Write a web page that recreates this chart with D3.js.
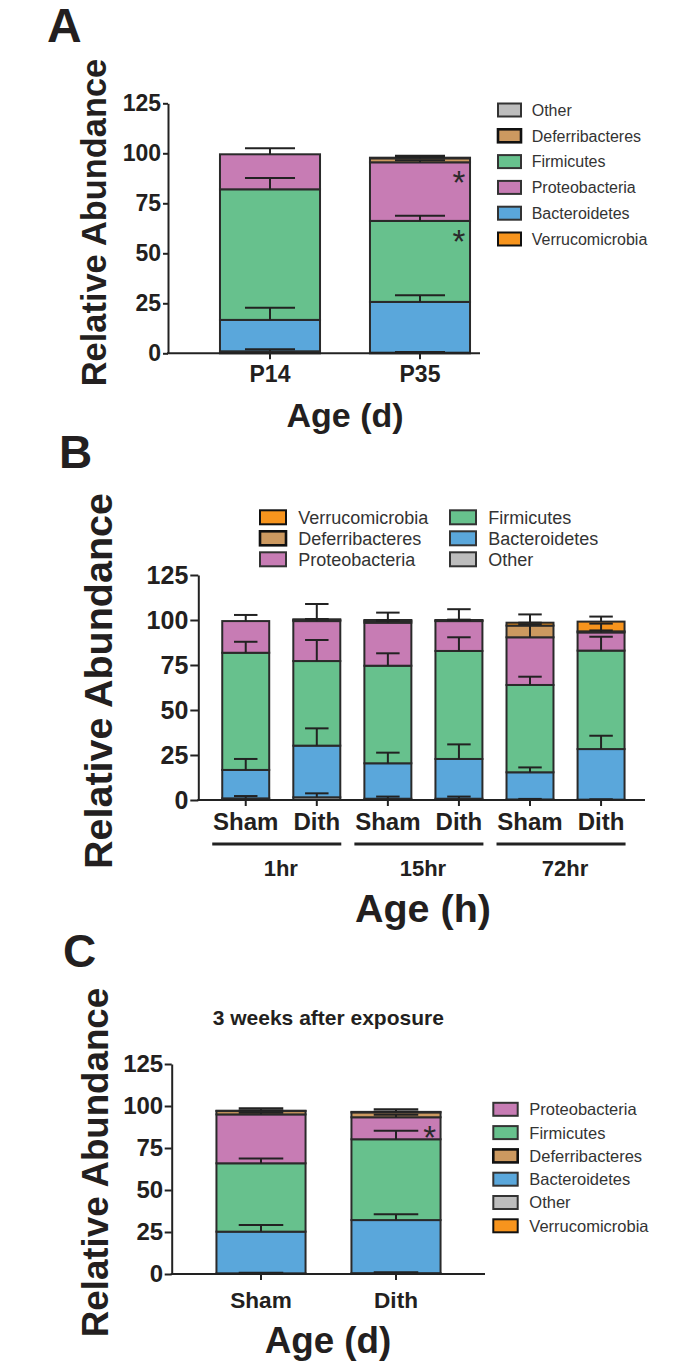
<!DOCTYPE html>
<html><head><meta charset="utf-8">
<script src="https://cdn.jsdelivr.net/npm/d3@7/dist/d3.min.js"></script>
<style>
body{margin:0;background:#fff}
svg{display:block}
text{font-family:"Liberation Sans",Arial,Helvetica,sans-serif}
</style>
</head><body>
<svg id="chart" width="698" height="1371"></svg>
<script>
// ---------------- DATA ----------------
const phyla = ["Other","Bacteroidetes","Firmicutes","Proteobacteria","Deferribacteres","Verrucomicrobia"];
const yTicks = [0,25,50,75,100,125];

// Panel A
const categoriesA = ["P14","P35"];
const otherA = [1.0, 0.3];
const bacteroidetesA = [15.7, 25.4];
const firmicutesA = [65.3, 40.5];
const proteobacteriaA = [17.5, 29.3];
const deferribacteresA = [0, 2.0];
const verrucomicrobiaA = [0, 0.3];
const errOtherA = [1.0, 0.3];
const errBacteroidetesA = [6.1, 3.3];
const errFirmicutesA = [5.7, 2.6];
const errProteobacteriaA = [3.0, 1.0];
const errDeferribacteresA = [0, 0.8];
const errVerrucomicrobiaA = [0, 1.0];
const legendA = ["Other","Deferribacteres","Firmicutes","Proteobacteria","Bacteroidetes","Verrucomicrobia"];
const starsA = [{cat:1, key:"Proteobacteria"},{cat:1, key:"Firmicutes"}];

// Panel B
const categoriesB = ["Sham","Dith","Sham","Dith","Sham","Dith"];
const groupsB = ["1hr","15hr","72hr"];
const otherB = [0.9, 1.5, 0.7, 0.7, 0.3, 0.2];
const bacteroidetesB = [15.8, 28.7, 19.7, 22.1, 15.1, 28.1];
const firmicutesB = [65.1, 47.0, 54.2, 60.0, 48.5, 54.7];
const proteobacteriaB = [17.6, 22.2, 23.9, 16.6, 26.5, 10.1];
const deferribacteresB = [0, 0.6, 1.0, 0.3, 6.5, 0.6];
const verrucomicrobiaB = [0, 0.4, 0.5, 0.3, 1.6, 5.4];
const errOtherB = [1.3, 2.2, 1.2, 1.2, 0.3, 0.2];
const errBacteroidetesB = [6.1, 9.6, 5.9, 8.1, 2.7, 7.4];
const errFirmicutesB = [6.1, 11.7, 6.9, 7.6, 4.6, 7.7];
const errProteobacteriaB = [3.4, 1.0, 1.0, 0.8, 7.1, 4.9];
const errDeferribacteresB = [0, 0.5, 0.5, 0.3, 1.6, 0.5];
const errVerrucomicrobiaB = [0, 8.5, 4.1, 6.0, 4.6, 2.8];
const legendB = [["Verrucomicrobia","Deferribacteres","Proteobacteria"],["Firmicutes","Bacteroidetes","Other"]];

// Panel C
const categoriesC = ["Sham","Dith"];
const otherC = [0.4, 0.5];
const bacteroidetesC = [24.8, 31.6];
const firmicutesC = [40.7, 48.1];
const proteobacteriaC = [29.1, 13.1];
const deferribacteresC = [2.0, 2.9];
const verrucomicrobiaC = [0.2, 0.3];
const errOtherC = [0.4, 0.5];
const errBacteroidetesC = [4.0, 3.4];
const errFirmicutesC = [2.9, 5.1];
const errProteobacteriaC = [1.0, 1.5];
const errDeferribacteresC = [0.5, 0.5];
const errVerrucomicrobiaC = [1.4, 1.5];
const legendC = ["Proteobacteria","Firmicutes","Deferribacteres","Bacteroidetes","Other","Verrucomicrobia"];
const starsC = [{cat:1, key:"Proteobacteria"}];

// ---------------- STYLE ----------------
const color = {
  Other:"#bdbdbd", Bacteroidetes:"#5aa7db", Firmicutes:"#67c18d",
  Proteobacteria:"#c77cb4", Deferribacteres:"#cc9960", Verrucomicrobia:"#f7941d"
};
const ink = "#231f20";
const svg = d3.select("#chart");

function buildRows(cats, vals){
  return cats.map((c,i)=>{ const r={idx:i}; phyla.forEach((k,j)=>r[k]=vals[j][i]); return r; });
}

function drawPanel(o){
  const g = svg.append("g");
  const rows = buildRows(o.cats, o.vals);
  const errs = {}; phyla.forEach((k,j)=>errs[k]=o.errs[j]);
  const stack = d3.stack().keys(phyla)(rows);
  const x = d3.scaleBand().domain(o.cats.map((c,i)=>i)).range(o.xRange)
      .paddingInner(o.pad).paddingOuter(o.pad/2);
  const y = d3.scaleLinear().domain([0,125]).range(o.yRange);
  const bw = x.bandwidth();

  // bars
  stack.forEach(s=>{
    g.append("g").selectAll("rect").data(s.filter(d=>d[1]-d[0]>0)).join("rect")
      .attr("x", d=>x(d.data.idx)).attr("width", bw)
      .attr("y", d=>y(d[1])).attr("height", d=>y(d[0])-y(d[1]))
      .attr("fill", color[s.key]).attr("stroke","#2a2a2a").attr("stroke-width",2);
  });
  // error bars
  stack.forEach(s=>{
    s.forEach((d,i)=>{
      const e = errs[s.key][i];
      if(!(d[1]-d[0]>0) || !(e>0)) return;
      const cx = x(i)+bw/2;
      g.append("line").attr("x1",cx).attr("x2",cx).attr("y1",y(d[1])).attr("y2",y(d[1]+e))
        .attr("stroke","#222").attr("stroke-width",2);
      g.append("line").attr("x1",cx-bw/4).attr("x2",cx+bw/4).attr("y1",y(d[1]+e)).attr("y2",y(d[1]+e))
        .attr("stroke","#222").attr("stroke-width",2);
    });
  });
  // significance stars
  (o.stars||[]).forEach(st=>{
    const s = stack.find(q=>q.key===st.key);
    const top = s[st.cat][1];
    g.append("text").attr("x", x(st.cat)+bw-11).attr("y", y(top)+13+19)
      .attr("text-anchor","middle").attr("font-size",33).attr("fill","#2a2a2a").text("*");
  });

  // y axis
  const ya = g.append("g").attr("transform",`translate(${o.axisX},0)`)
    .call(d3.axisLeft(y).tickValues(yTicks).tickSize(o.yTickSize).tickSizeOuter(0).tickPadding(o.yTickPad));
  ya.attr("font-family",null).attr("font-size",null).attr("color","#222");
  ya.selectAll("path,line").attr("stroke-width",2);
  ya.selectAll("text").attr("font-size",o.yTickFont).attr("font-weight","bold").attr("fill",ink);

  // x axis
  const baseY = o.yRange[0];
  const xa = g.append("g").attr("transform",`translate(0,${baseY})`)
    .call(d3.axisBottom(x).tickFormat(i=>o.cats[i]).tickSize(6).tickPadding(o.xTickPad));
  xa.attr("font-family",null).attr("font-size",null).attr("color","#222");
  xa.select(".domain").remove();
  xa.selectAll("line").attr("stroke-width",2);
  xa.selectAll("text").attr("font-size",o.xTickFont).attr("font-weight","bold").attr("fill",ink);
  g.append("line").attr("x1",o.axisX-1).attr("x2",o.axisEnd).attr("y1",baseY).attr("y2",baseY)
    .attr("stroke","#222").attr("stroke-width",2);

  // axis titles
  g.append("text").attr("transform",`translate(${o.yTitle[0]},${o.yTitle[1]}) rotate(-90)`)
    .attr("text-anchor","middle").attr("font-weight","bold").attr("font-size",o.yTitle[2]).attr("fill",ink)
    .text("Relative Abundance");
  g.append("text").attr("x",o.xTitle[0]).attr("y",o.xTitle[1]).attr("text-anchor","middle")
    .attr("font-weight","bold").attr("font-size",o.xTitle[2]).attr("fill",ink).text(o.xTitleText);
  // panel letter
  g.append("text").attr("x",o.letter[0]).attr("y",o.letter[1]).attr("font-weight","bold")
    .attr("font-size",o.letter[2]).attr("fill",ink).text(o.letterText);
  return {g,x,y,bw};
}

function legendItem(g, key, sx, cy, w, h, tx, fs){
  g.append("rect").attr("x",sx).attr("y",cy-h/2).attr("width",w).attr("height",h)
    .attr("fill",color[key]).attr("stroke", (key==="Deferribacteres"||key==="Verrucomicrobia")?"#111":"#333")
    .attr("stroke-width",(key==="Deferribacteres")?2.6:2);
  g.append("text").attr("x",tx).attr("y",cy).attr("dy","0.36em").attr("font-size",fs)
    .attr("fill","#333").text(key);
}

// ---------- Panel A ----------
const pA = drawPanel({
  cats:categoriesA,
  vals:[otherA,bacteroidetesA,firmicutesA,proteobacteriaA,deferribacteresA,verrucomicrobiaA],
  errs:[errOtherA,errBacteroidetesA,errFirmicutesA,errProteobacteriaA,errDeferribacteresA,errVerrucomicrobiaA],
  stars:starsA,
  xRange:[195,495], pad:0.333, yRange:[353.3,103.3],
  axisX:168, axisEnd:480, yTickSize:5, yTickPad:2, yTickFont:23, xTickPad:6.4, xTickFont:23,
  yTitle:[106,222.5,34.4], xTitle:[345,426.7,34], xTitleText:"Age (d)",
  letter:[47,42,48], letterText:"A"
});
legendA.forEach((k,i)=>legendItem(pA.g,k,498,110+25.8*i,23,13,531.7,16));

// ---------- Panel B ----------
const pB = drawPanel({
  cats:categoriesB,
  vals:[otherB,bacteroidetesB,firmicutesB,proteobacteriaB,deferribacteresB,verrucomicrobiaB],
  errs:[errOtherB,errBacteroidetesB,errFirmicutesB,errProteobacteriaB,errDeferribacteresB,errVerrucomicrobiaB],
  xRange:[210.2,636.6], pad:0.339, yRange:[800,575],
  axisX:198.3, axisEnd:645, yTickSize:8, yTickPad:2, yTickFont:25, xTickPad:7, xTickFont:24,
  yTitle:[111.7,681,39.5], xTitle:[423,921.7,39.5], xTitleText:"Age (h)",
  letter:[59,468,46], letterText:"B"
});
groupsB.forEach((gname,gi)=>{
  const left = pB.x(2*gi)-10, right = pB.x(2*gi+1)+pB.bw+1;
  pB.g.append("line").attr("x1",left).attr("x2",right).attr("y1",844).attr("y2",844)
    .attr("stroke","#222").attr("stroke-width",3);
  pB.g.append("text").attr("x",(left+right)/2+4).attr("y",876).attr("text-anchor","middle")
    .attr("font-weight","bold").attr("font-size",22).attr("fill",ink).text(gname);
});
legendB.forEach((col,ci)=>col.forEach((k,ri)=>{
  const sx = ci===0?260:450;
  legendItem(pB.g,k,sx,517.3+21*ri,26,14,sx+38.3,18);
}));

// ---------- Panel C ----------
const pC = drawPanel({
  cats:categoriesC,
  vals:[otherC,bacteroidetesC,firmicutesC,proteobacteriaC,deferribacteresC,verrucomicrobiaC],
  errs:[errOtherC,errBacteroidetesC,errFirmicutesC,errProteobacteriaC,errDeferribacteresC,errVerrucomicrobiaC],
  stars:starsC,
  xRange:[193.5,463.5], pad:0.34, yRange:[1274,1064],
  axisX:171.7, axisEnd:485, yTickSize:7, yTickPad:1.5, yTickFont:24, xTickPad:12, xTickFont:22.6,
  yTitle:[108.3,1162.5,36.7], xTitle:[328,1353,36.8], xTitleText:"Age (d)",
  letter:[63,966.7,46], letterText:"C"
});
pC.g.append("text").attr("x",328.3).attr("y",1025).attr("text-anchor","middle").attr("font-weight","bold")
  .attr("font-size",21).attr("fill",ink).text("3 weeks after exposure");
legendC.forEach((k,i)=>legendItem(pC.g,k,493.3,1109.3+23.3*i,24.4,13,529.3,16.5));
</script>
</body></html>
